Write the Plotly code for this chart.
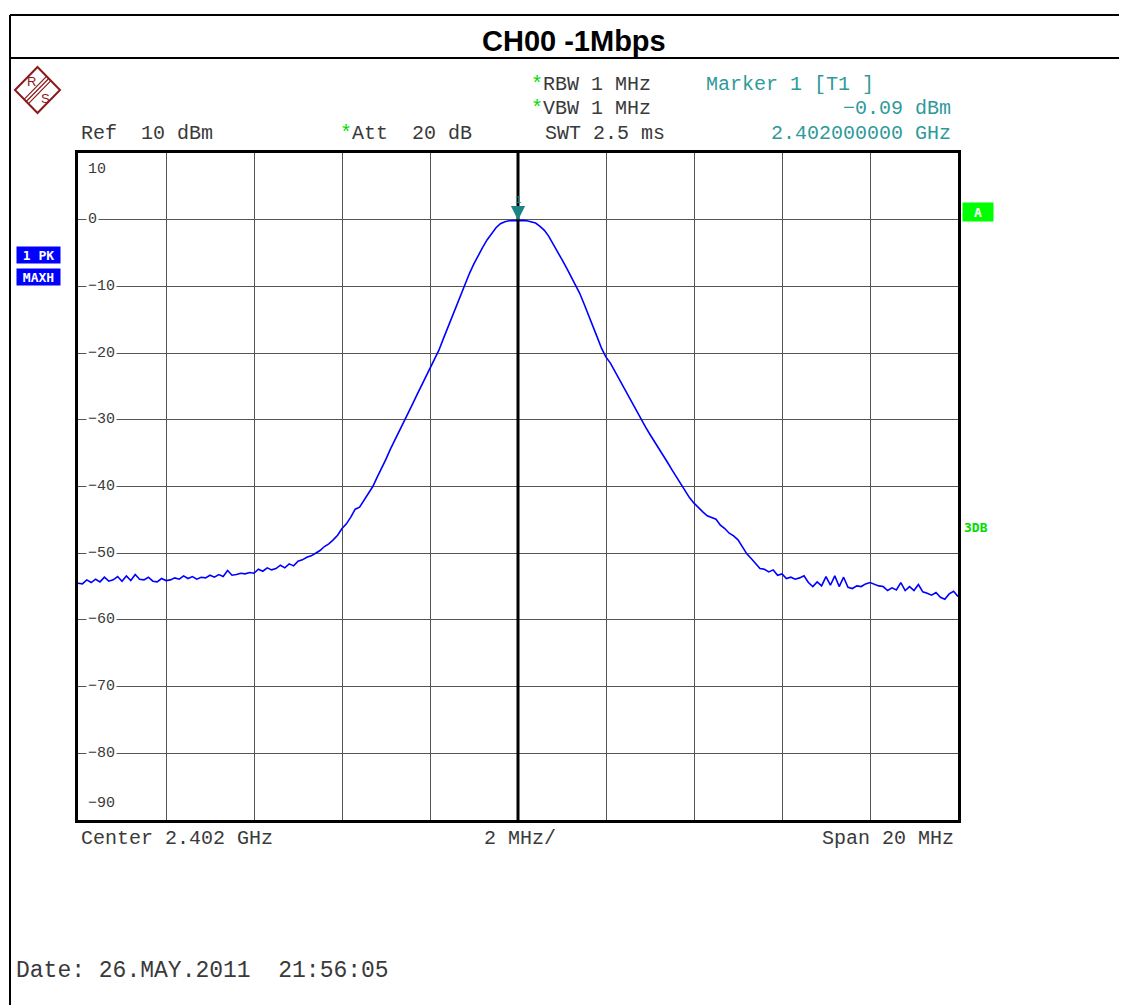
import plotly.graph_objects as go

# Analyzer settings
center_ghz = 2.402
span_mhz = 20.0
ref_level = 10
y_ticks = [10, 0, -10, -20, -30, -40, -50, -60, -70, -80, -90]

# Trace levels (dBm), one sample every 0.1 MHz across the span
noise_left = [
    -54.5, -54.6, -54.0, -54.4, -53.9, -54.3, -53.6, -54.2, -54.0, -53.5,
    -54.2, -53.4, -54.1, -53.2, -53.9, -54.0, -53.6, -54.2, -54.3, -53.8,
    -54.1, -54.0, -53.7, -53.9, -53.4, -53.8, -53.5, -53.9, -53.6, -53.7,
    -53.3, -53.6, -53.2, -53.5, -52.6, -53.3, -53.2, -53.0, -53.1, -52.9,
    -53.0, -52.4, -52.7, -52.2, -52.5, -52.3, -51.8, -52.2, -51.6, -51.9,
    -51.2, -51.0, -50.6, -50.4, -50.0, -49.6, -49.0, -48.6, -48.0, -47.3,
    -46.3,
]
rise = [
    -45.6, -44.6, -43.4, -43.1, -42.0, -41.0, -40.0, -38.6, -37.3, -35.9,
    -34.4, -33.1, -31.7, -30.4, -29.0, -27.7, -26.3, -25.0, -23.6, -22.2,
    -20.9, -19.6, -17.9, -16.2, -14.5, -12.8, -11.1, -9.5, -8.0, -6.6,
    -5.3, -4.1, -3.0, -2.0, -1.2, -0.6, -0.3, -0.15, -0.1,
]
peak = [-0.09]
fall = [
    -0.1, -0.15, -0.3, -0.5, -1.0, -1.6, -2.5, -3.6, -4.8, -6.0,
    -7.2, -8.4, -9.7, -11.0, -12.6, -14.2, -15.9, -17.6, -19.3, -20.6,
    -21.5, -22.7, -23.9, -25.2, -26.4, -27.6, -28.8, -30.1, -31.1, -32.2,
    -33.2, -34.3, -35.3, -36.4, -37.5, -38.6, -39.7,
]
noise_right = [
    -40.6, -41.7, -42.5, -43.2, -43.8, -44.4, -44.6, -44.9, -45.8, -46.3,
    -47.0, -47.4, -48.0, -49.0, -50.1, -50.8, -51.5, -52.3, -52.4, -52.8,
    -52.5, -53.3, -53.1, -53.8, -53.6, -53.9, -53.7, -53.4, -54.4, -55.0,
    -54.3, -54.9, -53.5, -54.8, -53.4, -55.0, -53.6, -55.1, -55.3, -54.9,
    -55.0, -54.6, -54.4, -54.7, -54.9, -55.0, -55.6, -55.2, -55.5, -54.4,
    -55.6, -55.0, -55.6, -54.7, -55.8, -56.0, -56.3, -55.9, -56.6, -56.9,
    -56.1, -55.7, -56.5,
]
levels = noise_left + rise + peak + fall + noise_right

# sweep points spread evenly over the span
n = len(levels)
freq = [center_ghz + (i / (n - 1) - 0.5) * span_mhz / 1000 for i in range(n)]

marker_level = -0.09

# layout is worked out in screenshot pixels; the page body adds an 8px margin
OFF = 8
W, H = 1127 - OFF, 1005 - OFF
L, R, T, B = 78, 958, 153, 820

def px(x):
    return (x - L) / (R - L)

def py(y):
    return (B - y) / (B - T)

def path(points):
    return 'M ' + ' L '.join(f'{px(a):.5f},{py(b):.5f}' for a, b in points) + ' Z'

MONO = 'Liberation Mono'
GREY = '#3a3a3a'
TEAL = '#2f9a9a'
GREEN = '#00dd00'
STAR = f"<span style='color:{GREEN}'>*</span>"
sp = '\u00a0'

fig = go.Figure()
fig.add_trace(go.Scatter(
    x=freq, y=levels, mode='lines',
    line=dict(color='#0000ff', width=1.6),
    showlegend=False, hoverinfo='skip'
))

annotations = []

def text(t, x, y, size=20, color=GREY, anchor='left', family=MONO, **kw):
    annotations.append(dict(
        text=t, x=px(x), y=py(y), xref='paper', yref='paper',
        xanchor=anchor, yanchor='middle', showarrow=False,
        font=dict(family=family, size=size, color=color), **kw
    ))

# title
text('<b>CH00 -1Mbps</b>', 574, 41, size=29, color='black', anchor='center',
     family='Liberation Sans')

# header lines
text(f'Ref{sp*2}10 dBm', 79, 133)
text(f'{STAR}Att{sp*2}20 dB', 338, 133)
text(f'{STAR}RBW 1 MHz', 529, 84)
text(f'{STAR}VBW 1 MHz', 529, 108)
text('SWT 2.5 ms', 543, 133)
text('Marker 1 [T1 ]', 704, 84, color=TEAL)
text(f'{marker_level:.2f} dBm'.replace('-', '\u2212'), 953, 108, color=TEAL, anchor='right')
text(f'{center_ghz:.9f} GHz', 953, 133, color=TEAL, anchor='right')

# footer lines
text(f'Center {center_ghz} GHz', 79, 838)
text(f'{int(span_mhz / 10)} MHz/', 482, 838)
text(f'Span {int(span_mhz)} MHz', 956, 838, anchor='right')
text(f'Date:{sp}26.MAY.2011{sp*2}21:56:05', 14, 971, size=23)

# side badges
for label, ymid in [('1 PK', 255), ('MAXH', 276.5)]:
    annotations.append(dict(
        text=f'<b>{label.replace(" ", sp)}</b>', x=px(38.5), y=py(ymid),
        xref='paper', yref='paper', xanchor='center', yanchor='middle',
        showarrow=False, width=43, height=16, bgcolor='#0000ff', borderpad=0,
        font=dict(family='DejaVu Sans Mono', size=13, color='white')
    ))
annotations.append(dict(
    text='<b>A</b>', x=px(978), y=py(212), xref='paper', yref='paper',
    xanchor='center', yanchor='middle',
    showarrow=False, width=30, height=18, bgcolor='#00ff00', borderpad=0,
    font=dict(family='DejaVu Sans Mono', size=13, color='white')
))
text('<b>3DB</b>', 962, 527, size=13, color=GREEN, family='DejaVu Sans Mono')

# y level labels sitting on the grid lines
for v in y_ticks:
    lab = str(v).replace('-', '\u2212')
    a = dict(text=lab, x=px(86), y=v, xref='paper', yref='y',
             xanchor='left', showarrow=False,
             font=dict(family=MONO, size=15, color=GREY))
    if v == ref_level:
        a.update(yanchor='top', yshift=-6)
    elif v == y_ticks[-1]:
        a.update(yanchor='bottom', yshift=6)
    else:
        a.update(yanchor='middle', bgcolor='white', borderpad=1)
    annotations.append(a)

# marker 1
annotations.append(dict(
    text='1', x=center_ghz, y=marker_level, xref='x', yref='y',
    showarrow=True, arrowhead=2, arrowsize=2.2, arrowwidth=1.3,
    arrowcolor='#1b8585', ax=0, ay=-20, standoff=0,
    font=dict(family=MONO, size=11, color='#1b8585')
))

# R&S logo
logo_red = '#8b1a1a'
cx, cy = 37.5, 90
shapes = [
    dict(type='path', xref='paper', yref='paper',
         path=path([(cx - 22.5, cy), (cx, cy - 23), (cx + 22.5, cy), (cx, cy + 23)]),
         line=dict(color=logo_red, width=2), fillcolor='rgba(0,0,0,0)'),
]
for off in (-2.2, 0, 2.2):
    x0, y0 = cx + 11.25 + off, cy - 11.5 + off
    x1, y1 = cx - 11.25 + off, cy + 11.5 + off
    shapes.append(dict(type='line', xref='paper', yref='paper',
                       x0=px(x0), y0=py(y0), x1=px(x1), y1=py(y1),
                       line=dict(color=logo_red, width=1.2)))
text('R', 25, 81, size=13, color=logo_red, family='Liberation Sans')
text('S', 39, 98, size=13, color=logo_red, family='Liberation Sans')

# outer frame and title bar
for x0, y0, x1, y1 in [(10, 15, 1135, 15), (10, 58, 1135, 58), (10, 15, 10, 1010)]:
    shapes.append(dict(type='line', xref='paper', yref='paper',
                       x0=px(x0), y0=py(y0), x1=px(x1), y1=py(y1),
                       line=dict(color='black', width=2)))

# center line of the display
shapes.append(dict(type='line', xref='x', yref='paper', x0=center_ghz, x1=center_ghz,
                   y0=0, y1=1, line=dict(color='black', width=3), layer='above'))

fig.update_layout(
    width=W, height=H,
    margin=dict(l=L - OFF, r=1127 - R, t=T - OFF, b=1005 - B),
    paper_bgcolor='white', plot_bgcolor='white',
    annotations=annotations, shapes=shapes,
    xaxis=dict(
        range=[center_ghz - span_mhz / 2000, center_ghz + span_mhz / 2000],
        tick0=center_ghz - span_mhz / 2000, dtick=span_mhz / 10000,
        showticklabels=False, ticks='', showgrid=True, gridcolor='#555555',
        gridwidth=1, zeroline=False, showline=True, mirror=True,
        linecolor='black', linewidth=3, fixedrange=True
    ),
    yaxis=dict(
        range=[y_ticks[-1], y_ticks[0]], tick0=0, dtick=10,
        showticklabels=False, ticks='', showgrid=True, gridcolor='#555555',
        gridwidth=1, zeroline=False, showline=True, mirror=True,
        linecolor='black', linewidth=3, fixedrange=True
    ),
    showlegend=False,
)

fig.write_html('out.html')
